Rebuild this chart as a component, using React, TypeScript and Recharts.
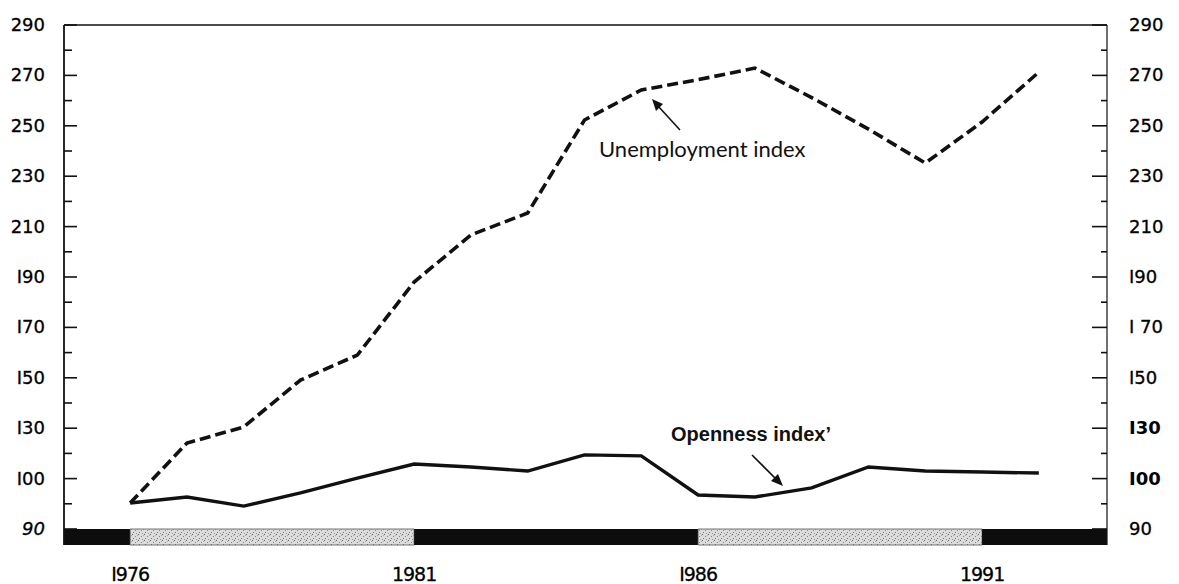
import React from 'react';
import { LineChart, Line, XAxis, YAxis, ReferenceArea, ReferenceLine } from 'recharts';

const years = [1976, 1977, 1978, 1979, 1980, 1981, 1982, 1983, 1984, 1985, 1986, 1987, 1988, 1989, 1990, 1991, 1992];
const unemployment = [100.3, 124.1, 130.5, 149.1, 159, 188, 206.7, 215.4, 252.3, 264.2, 268.3, 272.9, 261.2, 248.7, 235.2, 251.5, 271.3];
const openness = [100.3, 102.7, 99.1, 104.3, 110.2, 115.8, 114.6, 113, 119.4, 119, 103.5, 102.7, 106.3, 114.6, 113, 112.6, 112.2];

const yTicks = [90, 100, 110, 120, 130, 140, 150, 160, 170, 180, 190, 200, 210, 220, 230, 240, 250, 260, 270, 280, 290];
const leftLabels: Record<number, string> = {
  290: '290', 270: '270', 250: '250', 230: '230', 210: '210',
  190: 'I90', 170: 'I70', 150: 'I50', 130: 'I30', 110: 'I00', 90: '90',
};
const rightLabels: Record<number, string> = {
  290: '290', 270: '270', 250: '250', 230: '230', 210: '210',
  190: 'I90', 170: 'I 70', 150: 'I50', 130: 'I30', 110: 'I00', 90: '90',
};
const xTicks = [1976, 1981, 1986, 1991];
const xLabels: Record<number, string> = { 1976: 'I976', 1981: '1981', 1986: 'I986', 1991: '1991' };

const xDomain = [1974.835, 1993.2];
const yDomain = [83.65, 290];
const bandBottom = 83.65;
const bandTop = 90;
const bandStarts = [1974.835, 1976, 1981, 1986, 1991];
const bandEnds = [1976, 1981, 1986, 1991, 1993.2];
const bandKinds = ['dark', 'light', 'dark', 'light', 'dark'];

const data = years.map((y, i) => ({ year: y, unemployment: unemployment[i], openness: openness[i] }));

const FONT = '"DejaVu Sans", sans-serif';

const LeftTick = (props: any) => {
  const { x, y, payload } = props;
  const v = payload.value;
  const major = (v - 90) % 20 === 0;
  const label = leftLabels[v];
  return (
    <g>
      <line x1={x} y1={y} x2={x + (major ? 13 : 8)} y2={y} stroke="#111" strokeWidth={1.6} />
      {label && (
        <text x={x - 19} y={y + 6} textAnchor="end" fontFamily={FONT} fontSize={18}
          fontStyle={v === 90 ? 'italic' : 'normal'} fill="#000" stroke="#000" strokeWidth={0.3}>{label}</text>
      )}
    </g>
  );
};

const RightTick = (props: any) => {
  const { x, y, payload } = props;
  const v = payload.value;
  const major = (v - 90) % 20 === 0;
  const label = rightLabels[v];
  const bold = v === 130 || v === 110;
  return (
    <g>
      <line x1={x - (major ? 15 : 6)} y1={y} x2={x} y2={y} stroke="#111" strokeWidth={1.6} />
      {label && (
        <text x={x + 22} y={y + 6} textAnchor="start" fontFamily={FONT} fontSize={18}
          fontWeight={bold ? 'bold' : 'normal'} fill="#000" stroke="#000" strokeWidth={bold ? 0 : 0.3}>{label}</text>
      )}
    </g>
  );
};

const BottomTick = (props: any) => {
  const { x, y, payload } = props;
  return (
    <text x={x} y={y + 36} textAnchor="middle" fontFamily={FONT} fontSize={19} fill="#000" stroke="#000" strokeWidth={0.3} letterSpacing={-1}>
      {xLabels[payload.value]}
    </text>
  );
};

const Annotations = () => (
  <g>
    <defs>
      <pattern id="speckle" width="6" height="6" patternUnits="userSpaceOnUse">
        <rect width="6" height="6" fill="#dcdcdc" />
        <rect x="0" y="0" width="1" height="1" fill="#666" />
        <rect x="3" y="2" width="1" height="1" fill="#888" />
        <rect x="1" y="4" width="1" height="1" fill="#777" />
        <rect x="4" y="5" width="1" height="1" fill="#999" />
        <rect x="5" y="1" width="1" height="1" fill="#aaa" />
      </pattern>
    </defs>
    <text x={599} y={157} fontFamily='Lato, "Open Sans", sans-serif' fontSize={22} fill="#111">Unemployment index</text>
    <line x1={680} y1={130} x2={658} y2={106} stroke="#111" strokeWidth={1.6} />
    <polygon points="652,99 663,104 656,111" fill="#111" />
    <text x={671} y={441} fontFamily='"Liberation Sans", Arial, sans-serif' fontWeight="bold" fontSize={20} fill="#111">Openness index’</text>
    <line x1={752} y1={455} x2={776} y2={479} stroke="#111" strokeWidth={1.6} />
    <polygon points="783,486 771,481 778,474" fill="#111" />
  </g>
);

export default function App() {
  return (
    <div style={{ position: 'absolute', left: 0, top: 0, width: 1179, height: 584, background: '#fff' }}>
      <LineChart width={1179} height={584} data={data} margin={{ top: 25, right: 0, left: 0, bottom: 0 }}>
        <XAxis dataKey="year" type="number" domain={xDomain} allowDataOverflow ticks={xTicks}
          axisLine={false} tickLine={false} tickSize={0} tickMargin={0} height={39} tick={<BottomTick />} interval={0} />
        <YAxis yAxisId="left" orientation="left" type="number" domain={yDomain} allowDataOverflow ticks={yTicks}
          width={64} tickSize={0} tickMargin={0} tickLine={false} interval={0}
          axisLine={{ stroke: '#111', strokeWidth: 1.8 }} tick={<LeftTick />} />
        <YAxis yAxisId="right" orientation="right" type="number" domain={yDomain} allowDataOverflow ticks={yTicks}
          width={72} tickSize={0} tickMargin={0} tickLine={false} interval={0}
          axisLine={{ stroke: '#111', strokeWidth: 1.2 }} tick={<RightTick />} />
        {bandStarts.map((s, i) => (
          <ReferenceArea key={i} yAxisId="left" x1={s} x2={bandEnds[i]} y1={bandBottom} y2={bandTop}
            fill={bandKinds[i] === 'dark' ? '#0d0d0d' : 'url(#speckle)'} fillOpacity={1}
            stroke={bandKinds[i] === 'dark' ? '#0d0d0d' : '#555'} strokeWidth={bandKinds[i] === 'dark' ? 0 : 0.8} />
        ))}
        <ReferenceLine yAxisId="left" y={290} stroke="#111" strokeWidth={1.5} />
        <Line yAxisId="left" type="linear" dataKey="unemployment" stroke="#111" strokeWidth={3.6}
          strokeDasharray="11 5" dot={false} isAnimationActive={false} strokeLinejoin="miter" />
        <Line yAxisId="left" type="linear" dataKey="openness" stroke="#111" strokeWidth={3.4}
          dot={false} isAnimationActive={false} />
        <Annotations />
      </LineChart>
    </div>
  );
}
